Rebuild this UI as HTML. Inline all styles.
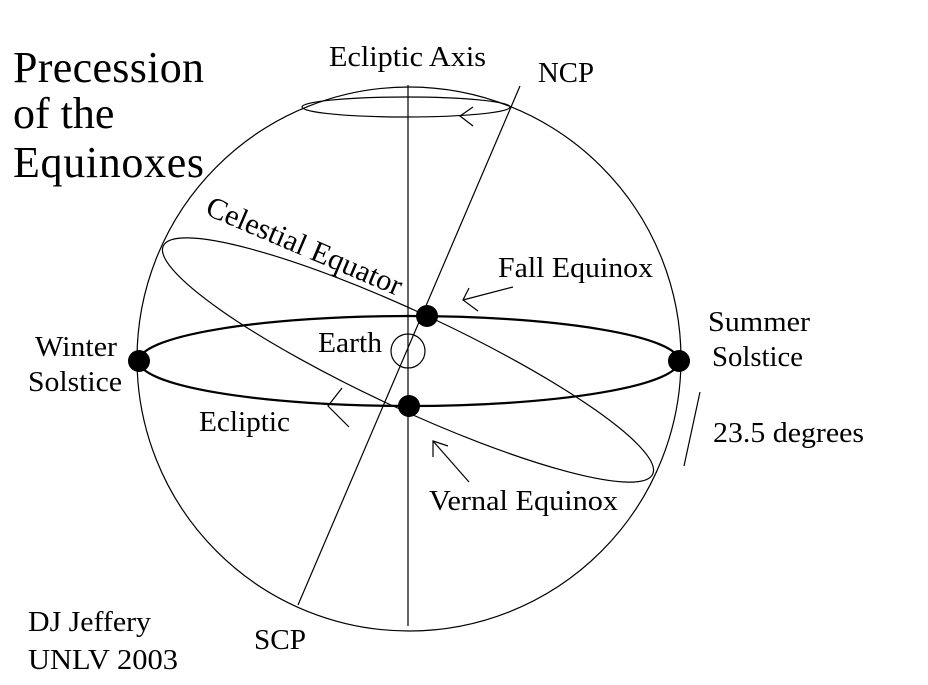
<!DOCTYPE html>
<html><head><meta charset="utf-8"><style>html,body{margin:0;padding:0;background:#fff}svg{display:block}</style></head>
<body>
<svg width="928" height="685" viewBox="0 0 928 685" xmlns="http://www.w3.org/2000/svg" font-family="Liberation Serif, serif" fill="#000">
<rect width="928" height="685" fill="#fff"/>
<g fill="none" stroke="#000" stroke-width="1.2">
<circle cx="409" cy="359" r="272"/>
<line x1="408" y1="85" x2="408" y2="626"/>
<ellipse cx="406" cy="107" rx="104" ry="10"/>
<ellipse cx="409" cy="361" rx="270" ry="45" stroke-width="2.2"/>
<ellipse cx="0" cy="0" rx="270" ry="48" transform="translate(408 360) rotate(25)"/>
<line x1="520" y1="86" x2="298" y2="605"/>
<circle cx="408" cy="351" r="17"/>
<polyline points="473,107 460,116 473,126"/>
<polyline points="342,388 328,406 349,427"/>
<line x1="463" y1="300" x2="513" y2="287"/><polyline points="469,288 463,300 478,311"/>
<line x1="433" y1="441" x2="469" y2="482"/><polyline points="433,457 433,441 448,446"/>
<line x1="700" y1="392" x2="684" y2="466"/>
</g>
<circle cx="139" cy="361" r="11"/>
<circle cx="679" cy="361" r="11"/>
<circle cx="427" cy="316" r="11"/>
<circle cx="409" cy="406" r="11"/>
<g font-size="44">
<text x="13" y="82" textLength="191">Precession</text>
<text x="13" y="128">of the</text>
<text x="13" y="177" textLength="191">Equinoxes</text>
</g>
<g font-size="28" lengthAdjust="spacingAndGlyphs">
<text x="329" y="66" textLength="157" lengthAdjust="spacingAndGlyphs">Ecliptic Axis</text>
<text x="538" y="82" textLength="56" lengthAdjust="spacingAndGlyphs">NCP</text>
<text x="498" y="277" textLength="155" lengthAdjust="spacingAndGlyphs">Fall Equinox</text>
<text x="708" y="331" textLength="102" lengthAdjust="spacingAndGlyphs">Summer</text>
<text x="712" y="366" textLength="91" lengthAdjust="spacingAndGlyphs">Solstice</text>
<text x="35" y="356" textLength="82" lengthAdjust="spacingAndGlyphs">Winter</text>
<text x="28" y="391" textLength="94" lengthAdjust="spacingAndGlyphs">Solstice</text>
<text x="318" y="352" textLength="64" lengthAdjust="spacingAndGlyphs">Earth</text>
<text x="199" y="431" textLength="91" lengthAdjust="spacingAndGlyphs">Ecliptic</text>
<text x="713" y="442" textLength="151" lengthAdjust="spacingAndGlyphs">23.5 degrees</text>
<text x="429" y="510" textLength="189" lengthAdjust="spacingAndGlyphs">Vernal Equinox</text>
<text x="28" y="631" textLength="123" lengthAdjust="spacingAndGlyphs">DJ Jeffery</text>
<text x="28" y="669" textLength="150" lengthAdjust="spacingAndGlyphs">UNLV 2003</text>
<text x="254" y="649" textLength="52" lengthAdjust="spacingAndGlyphs">SCP</text>
<text x="0" y="0" font-size="30" textLength="210" lengthAdjust="spacingAndGlyphs" transform="translate(204 214) rotate(23)">Celestial Equator</text>
</g>
</svg>
</body></html>
